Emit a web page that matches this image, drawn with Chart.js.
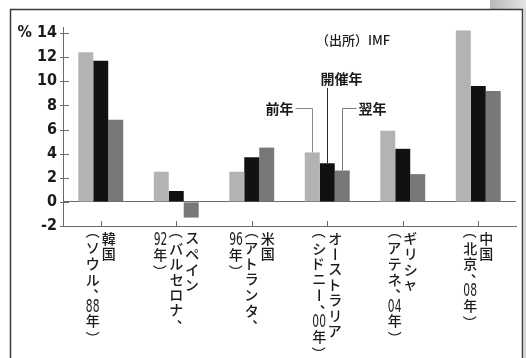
<!DOCTYPE html>
<html lang="ja">
<head>
<meta charset="utf-8">
<script src="https://cdn.jsdelivr.net/npm/chart.js@4/dist/chart.umd.min.js"></script>
<style>
  html, body { margin: 0; padding: 0; background: #fff; }
  canvas { display: block; }
</style>
</head>
<body>
<canvas id="c" width="526" height="358"></canvas>
<script>
// Host countries of the Summer Olympics, written as vertical columns (right to left)
const categoryLabels = [
  ["韓国", "（ソウル、88年）"],
  ["スペイン", "（バルセロナ、", "92年）"],
  ["米国", "（アトランタ、", "96年）"],
  ["オーストラリア", "（シドニー、00年）"],
  ["ギリシャ", "（アテネ、04年）"],
  ["中国", "（北京、08年）"]
];
// Real GDP growth rate, %
const seriesNames = ["前年", "開催年", "翌年"];
const yearBefore = [12.4, 2.5, 2.5, 4.1, 5.9, 14.2];
const hostYear   = [11.7, 0.9, 3.7, 3.2, 4.4, 9.6];
const yearAfter  = [6.8, -1.3, 4.5, 2.6, 2.3, 9.2];
const yTicks = [-2, 0, 2, 4, 6, 8, 10, 12, 14];
const sourceNote = "（出所）IMF";

const JP = '"Noto Sans CJK JP", "Noto Sans", sans-serif';
const NUM = '"Liberation Sans Narrow", "DejaVu Sans Condensed", Roboto, "Liberation Sans", sans-serif';
const INK = '#1b1b1b';

// page frame, white ground
const framePlugin = {
  id: 'frame',
  beforeDraw(chart) {
    const c = chart.ctx;
    c.save();
    c.fillStyle = '#fff';
    c.fillRect(0, 0, chart.width, chart.height);
    const g = c.createLinearGradient(490, 0, 526, 0);
    g.addColorStop(0, '#b8b8b8');
    g.addColorStop(1, '#e4e4e4');
    c.fillStyle = g;
    c.fillRect(490, 0, 36, 9);
    c.fillStyle = '#d6d6d6';
    c.fillRect(524, 9, 2, chart.height - 9);
    c.strokeStyle = '#3a3a3a';
    c.lineWidth = 1.5;
    c.strokeRect(10.5, 9.5, 512, chart.height + 10);
    c.restore();
  }
};

// split a column string into vertical-writing cells
function tokenize(str) {
  const out = [];
  const chars = Array.from(str);
  for (let i = 0; i < chars.length; i++) {
    const ch = chars[i];
    if (/[0-9]/.test(ch) && /[0-9]/.test(chars[i + 1] || '')) {
      out.push({ t: ch + chars[i + 1], kind: 'num' });
      i++;
    } else if (ch === '（' || ch === '）') {
      out.push({ t: ch, kind: 'paren' });
    } else if (ch === '、') {
      out.push({ t: ch, kind: 'comma' });
    } else if (ch === 'ー') {
      out.push({ t: ch, kind: 'bar' });
    } else {
      out.push({ t: ch, kind: 'full' });
    }
  }
  return out;
}

function drawCentered(c, text) {
  const m = c.measureText(text);
  const cx = (m.actualBoundingBoxRight - m.actualBoundingBoxLeft) / 2;
  const cy = (m.actualBoundingBoxDescent - m.actualBoundingBoxAscent) / 2;
  c.fillText(text, -cx, -cy);
}

// vertical category labels + inward tick marks
const verticalLabels = {
  id: 'verticalLabels',
  afterDraw(chart) {
    const c = chart.ctx;
    const xs = chart.scales.x;
    const ys = chart.scales.y;
    const area = chart.chartArea;
    c.save();
    c.strokeStyle = '#6a6a6a';
    c.lineWidth = 1;
    // x ticks pointing up from the axis
    chart.data.labels.forEach((_, i) => {
      const x = Math.round(xs.getPixelForValue(i)) + 0.5;
      c.beginPath();
      c.moveTo(x, area.bottom);
      c.lineTo(x, area.bottom - 5);
      c.stroke();
    });
    // y ticks crossing the axis
    yTicks.forEach(v => {
      const y = Math.round(ys.getPixelForValue(v)) + 0.5;
      c.beginPath();
      c.moveTo(area.left - 3, y);
      c.lineTo(area.left + 6, y);
      c.stroke();
    });

    c.fillStyle = INK;
    c.textAlign = 'left';
    c.textBaseline = 'alphabetic';
    const colGap = 16;
    const top = area.bottom + 5;
    chart.data.labels.forEach((cols, i) => {
      const cx = xs.getPixelForValue(i);
      const n = cols.length;
      cols.forEach((str, k) => {
        const x = cx + ((n - 1) / 2 - k) * colGap;
        let y = top;
        tokenize(str).forEach(tok => {
          const adv = (tok.kind === 'paren' || tok.kind === 'comma') ? 10 : 15.5;
          c.save();
          c.translate(x, y + adv / 2);
          if (tok.kind === 'num') {
            c.font = '500 17px ' + NUM;
            c.scale(0.7, 1);
          } else {
            c.font = '500 14px ' + JP;
          }
          if (tok.kind === 'paren' || tok.kind === 'bar') c.rotate(Math.PI / 2);
          if (tok.kind === 'comma') c.translate(3, -1);
          drawCentered(c, tok.t);
          c.restore();
          y += adv;
        });
      });
    });
    c.restore();
  }
};

// series call-outs on the Sydney group, and the source note
const callouts = {
  id: 'callouts',
  afterDatasetsDraw(chart) {
    const c = chart.ctx;
    const ys = chart.scales.y;
    const idx = 3;
    const b0 = chart.getDatasetMeta(0).data[idx];
    const b1 = chart.getDatasetMeta(1).data[idx];
    const b2 = chart.getDatasetMeta(2).data[idx];
    const yRow = Math.round(ys.getPixelForValue(7.8)) + 0.5;
    const yTop = Math.round(ys.getPixelForValue(10.2));
    c.save();
    c.lineWidth = 1;

    // 前年
    c.strokeStyle = '#8a8a8a';
    const x0 = Math.round(b0.x) + 0.5;
    c.beginPath();
    c.moveTo(x0 - 17, yRow);
    c.lineTo(x0, yRow);
    c.lineTo(x0, b0.y);
    c.stroke();

    // 開催年
    c.strokeStyle = '#2a2a2a';
    const x1 = Math.round(b1.x) + 0.5;
    c.beginPath();
    c.moveTo(x1, yTop + 9);
    c.lineTo(x1, b1.y);
    c.stroke();

    // 翌年
    c.strokeStyle = '#7a7a7a';
    const x2 = Math.round(b2.x) + 0.5;
    c.beginPath();
    c.moveTo(x2 + 14, yRow);
    c.lineTo(x2, yRow);
    c.lineTo(x2, b2.y);
    c.stroke();

    c.fillStyle = INK;
    c.font = 'bold 14px ' + JP;
    c.textBaseline = 'middle';
    c.textAlign = 'right';
    c.fillText(seriesNames[0], x0 - 19, yRow);
    c.textAlign = 'center';
    c.fillText(seriesNames[1], x1 + 14, yTop);
    c.textAlign = 'left';
    c.fillText(seriesNames[2], x2 + 16, yRow);

    c.font = '500 13px ' + JP;
    c.textAlign = 'left';
    c.fillText(sourceNote, 316, ys.getPixelForValue(13.4));
    c.restore();
  }
};

new Chart(document.getElementById('c'), {
  type: 'bar',
  data: {
    labels: categoryLabels,
    datasets: [
      { label: seriesNames[0], data: yearBefore, backgroundColor: '#b3b3b3' },
      { label: seriesNames[1], data: hostYear,   backgroundColor: '#111111' },
      { label: seriesNames[2], data: yearAfter,  backgroundColor: '#787878' }
    ]
  },
  options: {
    responsive: false,
    animation: false,
    devicePixelRatio: 1,
    datasets: { bar: { categoryPercentage: 0.595, barPercentage: 1.0, borderWidth: 0 } },
    layout: { padding: { top: 27, right: 10, left: 0, bottom: 0 } },
    plugins: { legend: { display: false }, tooltip: { enabled: false } },
    scales: {
      x: {
        grid: { display: false, drawTicks: false },
        border: { display: true, color: '#6a6a6a', width: 1 },
        ticks: { display: false },
        afterFit(s) { s.height = 132; }
      },
      y: {
        min: -2,
        max: 14.5,
        afterBuildTicks(s) { s.ticks = yTicks.map(v => ({ value: v })); },
        afterFit(s) { s.width = 63; },
        grid: {
          drawTicks: false,
          color: ctx => (ctx.tick && ctx.tick.value === 0) ? '#6a6a6a' : 'rgba(0,0,0,0)',
          lineWidth: 1
        },
        border: { display: true, color: '#6a6a6a', width: 1 },
        ticks: {
          padding: 6,
          color: INK,
          font: { family: NUM, size: 16, weight: 'bold' },
          callback: v => (v === 14 ? '% ' + v : String(v))
        }
      }
    }
  },
  plugins: [framePlugin, verticalLabels, callouts]
});
</script>
</body>
</html>
